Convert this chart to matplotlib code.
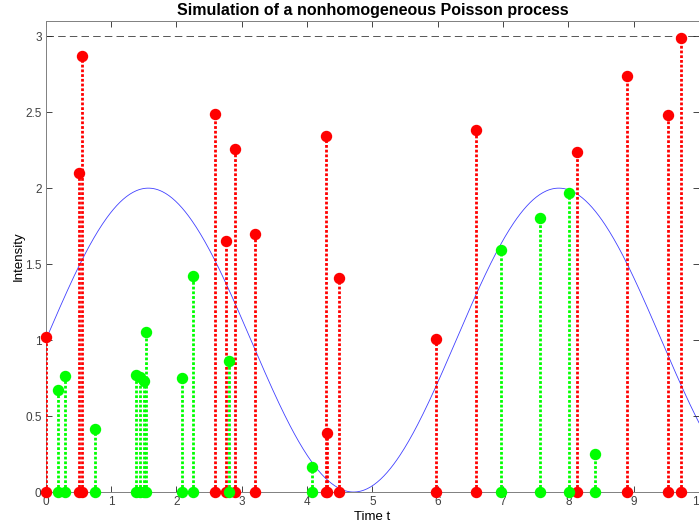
import numpy as np
import matplotlib
matplotlib.use("Agg")
import matplotlib.pyplot as plt

plt.rcParams.update({"font.family": ["Liberation Sans", "DejaVu Sans"]})

# rejected candidate events (time, uniform height)
red_t = [0.00, 0.515, 0.55, 2.59, 2.76, 2.90, 3.21, 4.29, 4.30, 4.49,
         5.98, 6.58, 8.14, 8.90, 9.53, 9.73]
red_v = [1.02, 2.10, 2.87, 2.49, 1.65, 2.26, 1.70, 2.34, 0.39, 1.41,
         1.01, 2.38, 2.24, 2.74, 2.48, 2.99]

# accepted events
green_t = [0.19, 0.295, 0.76, 1.38, 1.44, 1.50, 1.54, 2.08, 2.25, 2.80,
           4.075, 6.97, 7.57, 8.01, 8.41]
green_v = [0.67, 0.764, 0.413, 0.77, 0.76, 0.73, 1.05, 0.753, 1.42, 0.86,
           0.163, 1.59, 1.805, 1.965, 0.25]

lam_max = 3.0
t_end = 10.0
xticks = list(range(0, 11))
yticks = [0, 0.5, 1, 1.5, 2, 2.5, 3]


def intensity(t):
    # the intensity function of the process
    return 1 + np.sin(t)


RED = (1, 0, 0)
GREEN = (0, 1, 0)
AXC = "#262626"

fig = plt.figure(figsize=(6.99, 5.29), dpi=100)
ax = fig.add_axes([0.0654, 0.0699, 0.9346, 0.8904])

tt = np.linspace(0, t_end, 600)
ax.plot(tt, intensity(tt), color=(0, 0, 1), lw=0.6, alpha=0.75, zorder=1)
ax.axhline(lam_max, color="#3a3a3a", lw=0.6, ls=(0, (9, 5)), zorder=1)

for ts, vs, c in [(red_t, red_v, RED), (green_t, green_v, GREEN)]:
    ax.vlines(ts, 0, vs, colors=[c], lw=2.0, linestyles=(0, (1, 0.7)), zorder=3)
    ax.plot(ts, vs, "o", color=c, ms=7.2, mec=c, zorder=4, clip_on=False)
    ax.plot(ts, np.zeros(len(ts)), "o", color=c, ms=7.2, mec=c, zorder=5, clip_on=False)

ax.set_xlim(0, t_end)
ax.set_ylim(0, 3.1)
ax.set_xticks(xticks)
ax.set_yticks(yticks)
ax.set_yticklabels(["0", "0.5", "1", "1.5", "2", "2.5", "3"])
ax.tick_params(direction="in", top=True, right=True, length=4, width=0.6,
               colors=AXC, labelcolor="#404040", labelsize=8.5, pad=3)
for s in ax.spines.values():
    s.set_color("#808080")
    s.set_linewidth(0.7)

ax.set_title("Simulation of a nonhomogeneous Poisson process",
             fontsize=11.5, fontweight="bold", pad=4)
ax.set_xlabel("Time t", fontsize=9.5, labelpad=2)
ax.set_ylabel("Intensity", fontsize=9.5, labelpad=0.5)

fig.savefig("out.png", dpi=100)
